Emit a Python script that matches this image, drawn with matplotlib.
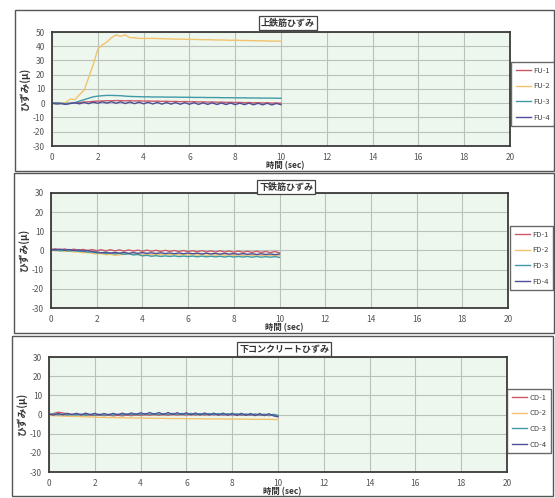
import matplotlib
matplotlib.use("Agg")
import matplotlib.pyplot as plt
from matplotlib.patches import Rectangle

plt.rcParams["font.family"] = ["Noto Sans CJK JP", "DejaVu Sans"]
plt.rcParams["axes.unicode_minus"] = False

# time axis (sec)
time_s = [0.0, 0.2, 0.4, 0.6, 0.8, 1.0, 1.2, 1.4, 1.6, 1.8,
          2.0, 2.2, 2.4, 2.6, 2.8, 3.0, 3.2, 3.4, 3.6, 3.8,
          4.0, 4.2, 4.4, 4.6, 4.8, 5.0, 5.2, 5.4, 5.6, 5.8,
          6.0, 6.2, 6.4, 6.6, 6.8, 7.0, 7.2, 7.4, 7.6, 7.8,
          8.0, 8.2, 8.4, 8.6, 8.8, 9.0, 9.2, 9.4, 9.6, 9.8,
          10.0]

# upper rebar strain
fu1 = [0, 0.2, 0, -0.2, 0, 0.3, 0.5, 0.8, 1.0, 1.3,
       1.5, 1.6, 1.8, 1.7, 1.9, 1.8, 1.7, 1.8, 1.6, 1.7,
       1.5, 1.6, 1.4, 1.5, 1.3, 1.4, 1.2, 1.3, 1.1, 1.2,
       1.0, 1.1, 0.9, 1.0, 0.8, 0.9, 0.7, 0.8, 0.6, 0.7,
       0.5, 0.6, 0.4, 0.5, 0.3, 0.4, 0.2, 0.3, 0.1, 0.2,
       0.0]
fu2 = [0, -0.5, 0, 0.5, 3.0, 2.5, 6, 9, 18, 27,
       38, 41, 43, 46, 48, 47, 48, 46, 46, 45.5,
       45.5, 45.5, 45.5, 45.4, 45.3, 45.2, 45.1, 45.0, 45.0, 44.9,
       44.8, 44.8, 44.7, 44.6, 44.6, 44.5, 44.4, 44.4, 44.3, 44.2,
       44.2, 44.1, 44.0, 44.0, 43.9, 43.8, 43.8, 43.7, 43.6, 43.6,
       43.5]
fu3 = [0, 0.3, 0, -0.3, 0, 0.5, 1.5, 2.5, 3.5, 4.5,
       5.0, 5.3, 5.5, 5.5, 5.4, 5.3, 5.0, 4.8, 4.7, 4.6,
       4.5, 4.5, 4.4, 4.4, 4.4, 4.3, 4.3, 4.3, 4.2, 4.2,
       4.2, 4.1, 4.1, 4.1, 4.0, 4.0, 4.0, 3.9, 3.9, 3.9,
       3.8, 3.8, 3.8, 3.7, 3.7, 3.7, 3.6, 3.6, 3.6, 3.5,
       3.5]
fu4 = [0, -0.5, -0.3, -0.8, -0.2, 0.3, -0.4, 0.6, -0.3, 0.8,
       0.0, 1.0, 0.1, 1.1, 0.0, 1.0, -0.2, 0.9, -0.3, 0.8,
       -0.4, 0.7, -0.5, 0.6, -0.6, 0.5, -0.6, 0.5, -0.7, 0.4,
       -0.7, 0.4, -0.8, 0.3, -0.8, 0.3, -0.9, 0.2, -0.9, 0.2,
       -1.0, 0.1, -1.0, 0.1, -1.1, 0.0, -1.1, 0.0, -1.2, -0.1,
       -1.0]

# lower rebar strain
fd1 = [0.5, 0.9, 0.3, 0.8, 0.2, 0.7, 0.1, 0.6, 0.0, 0.5,
       -0.1, 0.4, -0.2, 0.4, -0.2, 0.3, -0.3, 0.3, -0.3, 0.2,
       -0.4, 0.2, -0.4, 0.1, -0.5, 0.1, -0.5, 0.0, -0.6, 0.0,
       -0.6, -0.1, -0.7, -0.1, -0.7, -0.2, -0.8, -0.2, -0.8, -0.3,
       -0.9, -0.3, -0.9, -0.4, -1.0, -0.4, -1.0, -0.5, -1.1, -0.5,
       -1.2]
fd2 = [0.2, -0.2, 0.0, -0.5, -0.3, -0.8, -0.6, -1.2, -1.0, -1.5,
       -1.8, -1.6, -2.2, -2.0, -2.5, -2.3, -2.0, -1.7, -2.1, -1.8,
       -2.2, -1.8, -2.3, -1.9, -2.3, -1.9, -2.3, -1.9, -2.4, -2.0,
       -2.4, -2.0, -2.4, -2.0, -2.5, -2.1, -2.5, -2.1, -2.5, -2.1,
       -2.6, -2.2, -2.6, -2.2, -2.6, -2.2, -2.7, -2.3, -2.7, -2.3,
       -2.6]
fd3 = [0.0, 0.3, -0.2, 0.1, -0.3, 0.0, -0.5, -0.3, -0.9, -0.7,
       -1.3, -1.1, -1.6, -1.3, -1.8, -1.5, -2.0, -1.7, -2.3, -2.1,
       -2.8, -2.5, -3.0, -2.7, -3.1, -2.8, -3.1, -2.8, -3.2, -2.9,
       -3.2, -2.9, -3.3, -2.9, -3.3, -3.0, -3.3, -3.0, -3.4, -3.0,
       -3.4, -3.1, -3.4, -3.1, -3.5, -3.1, -3.5, -3.2, -3.5, -3.2,
       -3.6]
fd4 = [0.6, 0.3, 0.7, 0.2, 0.5, 0.0, 0.3, -0.3, 0.0, -0.6,
       -0.8, -1.2, -0.9, -1.4, -1.0, -1.4, -1.0, -1.5, -1.1, -1.5,
       -1.1, -1.5, -1.2, -1.6, -1.2, -1.6, -1.3, -1.7, -1.3, -1.7,
       -1.3, -1.7, -1.4, -1.8, -1.4, -1.8, -1.5, -1.9, -1.5, -1.9,
       -1.6, -2.0, -1.6, -2.0, -1.7, -2.1, -1.7, -2.1, -1.8, -2.2,
       -1.8]

# lower concrete strain
cd1 = [0.0, 0.5, 1.2, 0.8, 0.3, 0.0, 0.2, -0.2, 0.1, -0.3,
       -0.5, -0.2, -0.6, -0.3, -0.7, -0.4, -0.7, -0.3, -0.6, -0.2,
       -0.5, -0.1, -0.4, 0.0, -0.4, 0.0, -0.4, 0.1, -0.3, 0.1,
       -0.3, 0.1, -0.3, 0.2, -0.3, 0.2, -0.2, 0.2, -0.3, 0.1,
       -0.3, 0.1, -0.4, 0.0, -0.4, 0.0, -0.5, -0.1, -0.6, -0.2,
       -0.8]
cd2 = [-0.5, -0.6, -0.7, -0.8, -0.9, -1.0, -1.0, -1.1, -1.2, -1.3,
       -1.4, -1.5, -1.5, -1.6, -1.6, -1.7, -1.7, -1.8, -1.8, -1.8,
       -1.9, -1.9, -1.9, -2.0, -2.0, -2.0, -2.1, -2.1, -2.1, -2.1,
       -2.2, -2.2, -2.2, -2.2, -2.3, -2.3, -2.3, -2.3, -2.3, -2.4,
       -2.4, -2.4, -2.4, -2.4, -2.5, -2.5, -2.5, -2.5, -2.5, -2.6,
       -2.6]
cd3 = [0.0, 0.3, -0.2, 0.2, -0.3, 0.1, -0.3, 0.2, -0.4, 0.1,
       -0.3, 0.2, -0.4, 0.1, -0.3, 0.2, -0.2, 0.3, -0.2, 0.4,
       -0.1, 0.5, 0.0, 0.5, 0.0, 0.5, 0.0, 0.6, 0.1, 0.6,
       0.1, 0.6, 0.1, 0.5, 0.0, 0.5, 0.0, 0.5, -0.1, 0.4,
       -0.1, 0.4, -0.2, 0.3, -0.2, 0.3, -0.3, 0.2, -0.3, 0.1,
       -0.4]
cd4 = [0.2, -0.3, 0.5, -0.2, 0.6, -0.1, 0.6, -0.2, 0.7, -0.1,
       0.6, -0.3, 0.5, -0.2, 0.6, -0.2, 0.7, -0.1, 0.8, 0.0,
       0.9, 0.1, 1.0, 0.1, 1.0, 0.0, 1.0, 0.0, 0.9, -0.1,
       0.9, -0.2, 0.8, -0.3, 0.8, -0.3, 0.7, -0.4, 0.7, -0.4,
       0.6, -0.5, 0.6, -0.5, 0.5, -0.6, 0.5, -0.6, 0.4, -0.7,
       -1.2]

x_ticks = [0, 2, 4, 6, 8, 10, 12, 14, 16, 18, 20]
y_ticks_top = [-30, -20, -10, 0, 10, 20, 30, 40, 50]
y_ticks_low = [-30, -20, -10, 0, 10, 20, 30]

colors = ["#cc5a68", "#f2c26c", "#3f9aa6", "#4f4f98"]

W, H = 555, 498
fig = plt.figure(figsize=(W / 100, H / 100), dpi=100)
fig.patch.set_facecolor("white")


def fx(px):
    return px / W


def fy(py):
    return 1 - py / H


panels = [
    dict(box=(52, 32, 510, 146), frame=(15, 10, 554, 171), title="上鉄筋ひずみ", tpos=(288, 23),
         leg=(511, 62), series=[fu1, fu2, fu3, fu4], names=["FU-1", "FU-2", "FU-3", "FU-4"],
         yticks=y_ticks_top),
    dict(box=(51, 193, 508, 308), frame=(14, 173, 554, 333), title="下鉄筋ひずみ", tpos=(286, 187),
         leg=(510, 226), series=[fd1, fd2, fd3, fd4], names=["FD-1", "FD-2", "FD-3", "FD-4"],
         yticks=y_ticks_low),
    dict(box=(49, 357, 507, 472), frame=(12, 336, 553, 496), title="下コンクリートひずみ", tpos=(284, 349),
         leg=(507, 389), series=[cd1, cd2, cd3, cd4], names=["CD-1", "CD-2", "CD-3", "CD-4"],
         yticks=y_ticks_low),
]

for p in panels:
    # outer chart frame
    l, t, r, b = p["frame"]
    fig.patches.append(Rectangle((fx(l), fy(b)), fx(r) - fx(l), fy(t) - fy(b),
                                 transform=fig.transFigure, fill=False,
                                 edgecolor="#555555", linewidth=1.0))

    l, t, r, b = p["box"]
    ax = fig.add_axes([fx(l), fy(b), fx(r) - fx(l), fy(t) - fy(b)])
    ax.set_facecolor("#eef7ee")

    lines = []
    for s, c, n in zip(p["series"], colors, p["names"]):
        ln, = ax.plot(time_s, s, color=c, linewidth=1.0, label=n)
        lines.append(ln)

    ax.set_xlim(0, 20)
    ax.set_ylim(p["yticks"][0], p["yticks"][-1])
    ax.set_xticks(x_ticks)
    ax.set_yticks(p["yticks"])
    ax.grid(True, color="#b9c2b9", linewidth=0.8)
    ax.set_axisbelow(True)
    ax.tick_params(length=0, labelsize=6, colors="#555555", pad=5)
    for sp in ax.spines.values():
        sp.set_color("#3a3a3a")
        sp.set_linewidth(1.3)

    ax.set_xlabel("時間 (sec)", fontsize=6, fontweight="bold", color="#333333")
    ax.xaxis.set_label_coords(0.51, -0.135)
    ax.set_ylabel("ひずみ(μ)", fontsize=7, fontweight="bold", color="#333333")
    ax.yaxis.set_label_coords(-0.048, 0.5)

    fig.text(fx(p["tpos"][0]), fy(p["tpos"][1]), p["title"], ha="center", va="center",
             fontsize=6.5, fontweight="bold", color="#333333",
             bbox=dict(boxstyle="square,pad=0.25", facecolor="white", edgecolor="#444444", linewidth=0.9))

    lg = fig.legend(lines, p["names"], loc="upper left",
                    bbox_to_anchor=(fx(p["leg"][0]), fy(p["leg"][1])),
                    fontsize=5.5, frameon=True, fancybox=False, handlelength=2.0,
                    handletextpad=0.3, borderpad=0.6, labelspacing=1.0, borderaxespad=0)
    lg.get_frame().set_edgecolor("#444444")
    lg.get_frame().set_linewidth(1.0)
    for txt in lg.get_texts():
        txt.set_color("#444444")

fig.savefig("out.png", dpi=100)
